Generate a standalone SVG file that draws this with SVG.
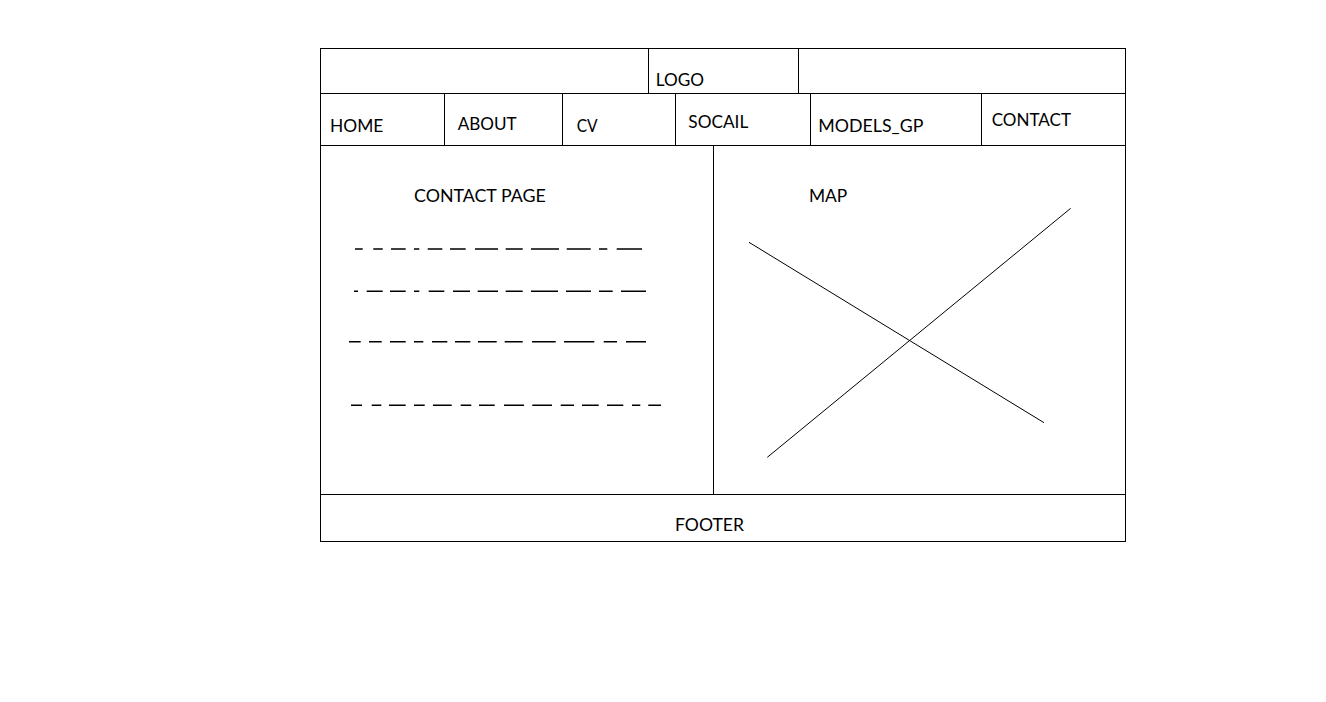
<svg xmlns="http://www.w3.org/2000/svg" width="1326" height="702" viewBox="0 0 1326 702">
<style>
.b{fill:none;stroke:#000;stroke-width:1}
.d{fill:none;stroke:#000;stroke-width:1.5}
.t{font-family:Lato,"Open Sans","Liberation Sans",sans-serif;font-size:18px;fill:#000}
</style>
<rect width="1326" height="702" fill="#fff"/>
<g id="frame">
<rect class="b" x="320.5" y="48.5" width="805" height="493"/>
<path class="b" d="M320.5 93.5H1125.5M320.5 145.5H1125.5M320.5 494.5H1125.5M648.5 48.5V93.5M798.5 48.5V93.5M713.5 145.5V494.5"/>
</g>
<g id="logo"><text class="t" x="655.7" y="85.7" textLength="48.3" lengthAdjust="spacingAndGlyphs">LOGO</text></g>
<g id="nav">
<path class="b" d="M444.5 93.5V145.5M562.5 93.5V145.5M675.5 93.5V145.5M810.5 93.5V145.5M981.5 93.5V145.5"/>
<g id="nav-home"><text class="t" x="330" y="131.7" textLength="53.3" lengthAdjust="spacingAndGlyphs">HOME</text></g>
<g id="nav-about"><text class="t" x="457.7" y="130" textLength="59" lengthAdjust="spacingAndGlyphs">ABOUT</text></g>
<g id="nav-cv"><text class="t" x="576.7" y="131.7" textLength="21" lengthAdjust="spacingAndGlyphs">CV</text></g>
<g id="nav-socail"><text class="t" x="688.3" y="128.3" textLength="60" lengthAdjust="spacingAndGlyphs">SOCAIL</text></g>
<g id="nav-models"><text class="t" x="818.3" y="131.7" textLength="105" lengthAdjust="spacingAndGlyphs">MODELS_GP</text></g>
<g id="nav-contact"><text class="t" x="991.7" y="126" textLength="79.3" lengthAdjust="spacingAndGlyphs">CONTACT</text></g>
</g>
<g id="contact-page">
<text class="t" x="414" y="201.7" textLength="131.7" lengthAdjust="spacingAndGlyphs">CONTACT PAGE</text>
<path class="d" d="M355 249H362.7M373.3 249H382.7M391 249H405.7M414 249H419.3M427.7 249H442.3M450 249H465.7M475 249H498M505.7 249H522.7M531 249H559M566.7 249H590.7M599 249H607.3M616.7 249H642"/>
<path class="d" d="M354 291.3H358M366.7 291.3H382.7M390 291.3H405.7M414 291.3H419.3M428.7 291.3H444.3M453 291.3H470M477.7 291.3H498M505.7 291.3H522.7M531 291.3H558M566 291.3H591M599 291.3H612.7M621 291.3H646"/>
<path class="d" d="M349 341.7H360.7M369 341.7H381.7M390 341.7H405.7M414 341.7H423.3M432 341.7H447.3M455 341.7H470.3M478 341.7H496.7M504.7 341.7H522.7M532 341.7H555.7M564 341.7H594.3M603.7 341.7H617M626 341.7H646"/>
<path class="d" d="M351 405.3H362M371.7 405.3H381.3M389 405.3H405.7M414 405.3H424.7M433 405.3H451.7M460.7 405.3H471.3M479 405.3H494.7M504 405.3H524M532.3 405.3H552M560.7 405.3H574M582 405.3H598.7M607 405.3H623.3M632 405.3H640.3M648.3 405.3H661"/>
</g>
<g id="map">
<text class="t" x="809" y="201.7" textLength="38.3" lengthAdjust="spacingAndGlyphs">MAP</text>
<path class="b" d="M749 242.3L1044 422.7M1070.7 208.3L767.3 457.3"/>
</g>
<g id="footer"><text class="t" x="675" y="530.7" textLength="69" lengthAdjust="spacingAndGlyphs">FOOTER</text></g>
</svg>
